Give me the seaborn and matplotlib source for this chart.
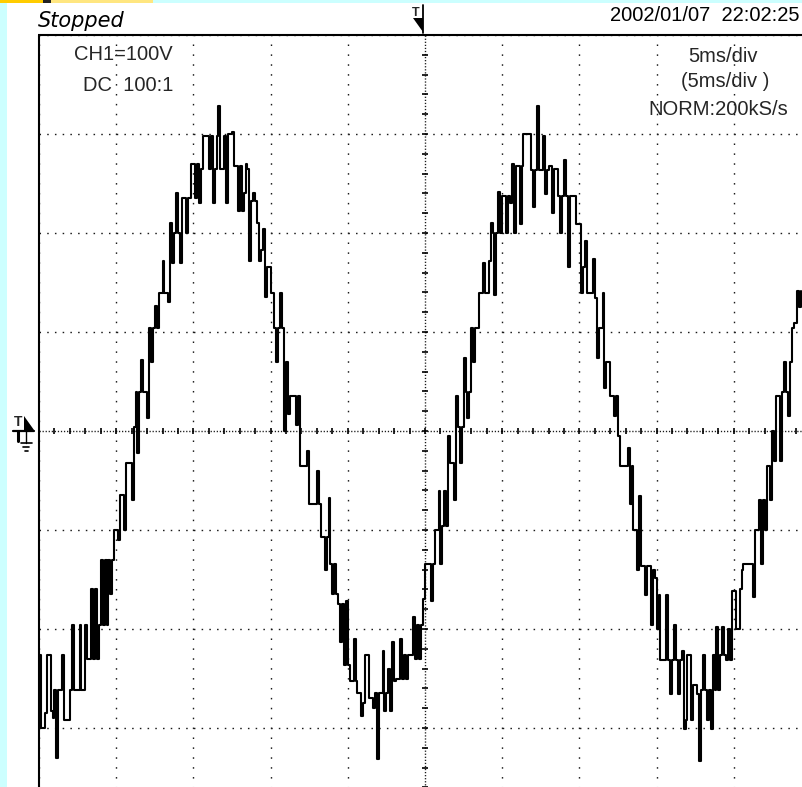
import numpy as np
import pandas as pd
import matplotlib
matplotlib.use("Agg")
import matplotlib.pyplot as plt
from matplotlib.patches import Rectangle, Polygon
import seaborn as sns

# CH1 record, 0.125 ms per sample, one list per 5 ms screen division (volts)
ch1_div0 = [-226, -300, -300, -285, -226, -226, -283, -290, -262, -330,
            -262, -262, -226, -292, -292, -292, -262, -196, -262, -262,
            -262, -196, -262, -262, -196, -230, -230, -160, -230, -160,
            -230, -196, -130, -196, -130, -196, -130, -165, -130, -100]
ch1_div1 = [-100, -110, -65, -65, -100, -32, -32, -32, -70, 4,
            39, -22, 39, 72, 39, 39, 13, 104, 70, 104,
            126, 104, 139, 139, 172, 139, 139, 130, 210, 170,
            200, 240, 200, 170, 235, 235, 200, 235, 235, 270]
ch1_div2 = [270, 235, 270, 230, 265, 298, 298, 298, 265, 298,
            230, 265, 298, 328, 265, 265, 298, 230, 300, 300,
            302, 268, 268, 222, 268, 222, 240, 270, 265, 172,
            232, 240, 232, 210, 172, 183, 204, 135, 166, 166]
ch1_div3 = [139, 139, 104, 70, 104, 139, 104, 0, 70, 17,
            35, 35, 35, 6, 35, -35, -35, -35, -35, -20,
            -74, -74, -74, -74, -40, -74, -107, -107, -140, -107,
            -68, -134, -165, -134, -165, -175, -213, -175, -236, -172]
ch1_div4 = [-236, -253, -253, -210, -253, -265, -265, -288, -275, -226,
            -226, -270, -270, -280, -265, -331, -265, -265, -222, -283,
            -265, -240, -283, -213, -253, -250, -250, -210, -250, -226,
            -250, -226, -226, -226, -188, -230, -196, -230, -196, -170]
ch1_div5 = [-134, -134, -134, -172, -134, -100, -100, -61, -134, -96,
            -61, -96, -5, -32, -32, -70, 35, 4, -32, 4,
            74, 39, 13, 39, 104, 70, 104, 104, 139, 139,
            170, 139, 139, 172, 210, 200, 137, 200, 241, 200]
ch1_div6 = [237, 237, 200, 237, 230, 270, 200, 268, 268, 209,
            268, 300, 300, 300, 300, 264, 226, 264, 328, 264,
            264, 298, 239, 264, 268, 268, 220, 265, 265, 237,
            200, 237, 274, 237, 166, 237, 237, 237, 209, 209]
ch1_div7 = [209, 139, 166, 192, 139, 139, 139, 174, 134, 74,
            104, 104, 139, 43, 70, 70, 35, 35, 15, 35,
            -5, -35, -35, -35, -35, -17, -74, -35, -100, -100,
            -140, -66, -136, -136, -166, -136, -136, -196, -140, -148]
ch1_div8 = [-200, -166, -231, -231, -231, -166, -231, -266, -231, -196,
            -231, -266, -231, -222, -301, -292, -226, -226, -292, -257,
            -257, -266, -333, -262, -226, -262, -292, -262, -301, -226,
            -262, -198, -262, -226, -198, -226, -231, -200, -231, -162]
ch1_div9 = [-162, -200, -200, -160, -140, -134, -134, -134, -134, -134,
            -168, -100, -100, -70, -134, -70, -100, -35, -35, -70,
            0, -30, 35, 35, -30, 39, 70, 39, 15, 70,
            104, 109, 109, 141, 125, 141]

sample_ms = 0.125
t_start_ms = -25.0

header_state = "Stopped"
header_stamp = "2002/01/07  22:02:25"
ch_label = "CH1=100V"
coupling_label = "DC  100:1"
timebase_label = "5ms/div"
timebase_zoom_label = "(5ms/div )"
acq_label = "NORM:200kS/s"

volts_per_div = 100
ms_per_div = 5

# ---------------------------------------------------------------------------
sns.set_theme(style="white")
plt.rcParams["font.family"] = ["Liberation Sans", "DejaVu Sans"]
plt.rcParams["lines.scale_dashes"] = False

volts = np.concatenate([ch1_div0, ch1_div1, ch1_div2, ch1_div3, ch1_div4,
                        ch1_div5, ch1_div6, ch1_div7, ch1_div8, ch1_div9])
times = t_start_ms + sample_ms * np.arange(len(volts))
df = pd.DataFrame({"t": times, "v": volts})

W, H = 802, 787
fig = plt.figure(figsize=(W / 100, H / 100), dpi=100)
fig.patch.set_facecolor("white")

# screen area: 10 x 8 divisions, partly cut off on the right and bottom
ax = fig.add_axes([39 / W, (H - 827) / H, 772 / W, 792 / H])
ax.set_xlim(-5 * ms_per_div, 5 * ms_per_div)
ax.set_ylim(-4 * volts_per_div, 4 * volts_per_div)
ax.set_facecolor("white")
for s in ax.spines.values():
    s.set_visible(False)
ax.set_xticks([])
ax.set_yticks([])

px_pt = 72 / 100
hx = 77.2 / 10 * px_pt   # dot pitch along horizontal lines (pt)
vy = 99.0 / 10 * px_pt   # dot pitch along vertical lines (pt)
dot_col = "#1a1a1a"

for k in range(-4, 5):
    if k == 0:
        continue
    ax.plot([-25, 25], [k * volts_per_div] * 2, color=dot_col, lw=1.0,
            linestyle=(0, (1.1, hx - 1.1)), solid_capstyle="butt", zorder=1)
for k in range(-5, 6):
    if k == 0:
        continue
    ax.plot([k * ms_per_div] * 2, [-400, 400], color=dot_col, lw=1.0,
            linestyle=(0, (1.1, vy - 1.1)), solid_capstyle="butt", zorder=1)

# centre axes with fine ticks
ax.plot([-25, 25], [0, 0], color=dot_col, lw=1.0,
        linestyle=(0, (0.9, 1.3)), zorder=1)
ax.plot([0, 0], [-400, 400], color=dot_col, lw=1.0,
        linestyle=(0, (0.9, 1.3)), zorder=1)
minor_t = np.arange(-25, 25.01, ms_per_div / 5)
ax.vlines(minor_t, -3.5, 3.5, color="black", lw=1.2, zorder=1)
minor_v = np.arange(-400, 400.1, volts_per_div / 5)
ax.hlines(minor_v, -0.2, 0.2, color="black", lw=1.2, zorder=1)

sns.lineplot(data=df, x="t", y="v", ax=ax, color="black", lw=1.5,
             estimator=None, sort=False, drawstyle="steps-post", zorder=3)
ax.set_xlabel("")
ax.set_ylabel("")

# ---------------------------------------------------------------------------
# frame, status bar and markers in pixel coordinates
ov = fig.add_axes([0, 0, 1, 1], zorder=5)
ov.set_xlim(0, W)
ov.set_ylim(H, 0)
ov.axis("off")
ov.patch.set_alpha(0)

ov.add_patch(Rectangle((0, 0), 7, H, color="#CCFFFF", lw=0))
ov.add_patch(Rectangle((0, 0), 43, 3, color="#FFCC00", lw=0))
ov.add_patch(Rectangle((43, 0), 8, 3, color="#222222", lw=0))
ov.add_patch(Rectangle((51, 0), 102, 3, color="#FFE680", lw=0))
ov.add_patch(Rectangle((153, 0), W - 153, 3, color="#CCFFFF", lw=0))

ov.plot([38, W], [35, 35], color="black", lw=1.5, solid_capstyle="butt")
ov.plot([38.5, 38.5], [35, H], color="black", lw=1.5, solid_capstyle="butt")

ov.text(38, 27, header_state, fontsize=15, fontstyle="italic",
        family=["DejaVu Sans"], va="baseline", ha="left", color="black")
ov.text(800, 21, header_stamp, fontsize=14.5, va="baseline", ha="right",
        color="black")
ov.text(173, 60, ch_label, fontsize=14.5, va="baseline", ha="right")
ov.text(173, 91, coupling_label, fontsize=14.5, va="baseline", ha="right")
ov.text(688, 62, timebase_label, fontsize=14.5, va="baseline", ha="left")
ov.text(681, 87, timebase_zoom_label, fontsize=14.5, va="baseline",
        ha="left")
ov.text(648, 115, acq_label, fontsize=14.5, va="baseline", ha="left")

# trigger position marker (top)
ov.plot([423, 423], [5, 33], color="black", lw=1.3)
ov.add_patch(Polygon([[413, 18], [423, 18], [423, 32]], closed=True,
                     color="black", lw=0))
ov.text(416, 16, "T", fontsize=9, fontweight="bold", ha="center",
        va="baseline")

# trigger level / ground marker (left)
ov.text(18, 426, "T", fontsize=10, fontweight="bold", ha="center",
        va="baseline")
ov.add_patch(Polygon([[24, 416], [34, 430], [24, 430]], closed=True,
                     color="black", lw=0))
ov.plot([13, 34], [431, 431], color="black", lw=1.6)
ov.plot([18, 18], [431, 441], color="black", lw=2.2)
ov.plot([26, 26], [431, 443], color="black", lw=1.0)
ov.plot([21, 32], [443, 443], color="black", lw=1.2)
ov.plot([23, 29], [447, 447], color="black", lw=1.2)
ov.plot([24.5, 27.5], [451, 451], color="black", lw=1.2)

fig.savefig("out.png", dpi=100, facecolor="white")
